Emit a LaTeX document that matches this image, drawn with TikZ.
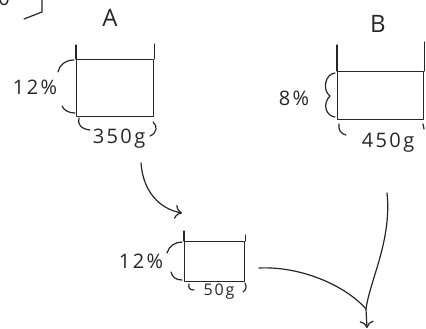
\documentclass[tikz,border=0pt]{standalone}
\usepackage{fontspec}
\setmainfont{Open Sans}[LetterSpace=12]
\usetikzlibrary{arrows.meta}
\begin{document}
\begin{tikzpicture}[x=1pt,y=-1pt, line width=1.2pt, line cap=round, line join=round,
  ink/.style={draw=black!85},
  lbl/.style={font=\fontsize{20}{20}\selectfont, inner sep=0pt, text=black!85},
  big/.style={font=\fontsize{24}{24}\selectfont, inner sep=0pt, text=black!85},
  tank/.style={draw=black!85, line width=1.2pt, inner sep=0pt, anchor=north west},
  harrow/.style={-{To[length=7pt,width=14pt]}}
]
\useasboundingbox (0,0) rectangle (426,329);
% top-left fragment
\node[lbl, anchor=south] (frag) at (4,6) {0};
\coordinate (brT) at (42,-2);
\coordinate (brC) at (42,12);
\coordinate (brE) at (24,19);
\draw[ink] (brT) -- (brC) -- (brE);

% Box A
\node[big] (labA) at (110,18) {A};
\node[tank, minimum width=77pt, minimum height=57pt] (boxA) at (76,59) {};
\draw[ink] (boxA.north west) -- ++(0,-14);
\draw[ink] (boxA.north east) -- ++(0,-15);
\node[lbl] (pA) at (35,87) {12\%};
\draw[ink] (74,60) .. controls (66,60) and (59,65) .. (58,72);
\draw[ink] (62,106) .. controls (64,111) and (70,113) .. (75,113);
\node[lbl] (mA) at (119,139) {350g};
\draw[ink] (79,118) .. controls (77,124) and (81,129) .. (90,130);
\draw[ink] (153,122) .. controls (158,126) and (157,133) .. (150,136);

% Box B
\node[big] (labB) at (378,24) {B};
\node[tank, minimum width=86pt, minimum height=48pt] (boxB) at (337,71) {};
\draw[ink] (boxB.north west) -- ++(0,-26);
\draw[ink] (boxB.north east) -- ++(0,-29);
\node[lbl] (pB) at (294,98) {8\%};
\draw[ink] (335,73) .. controls (325,74) and (322,90) .. (330,96);
\draw[ink] (330,96) .. controls (322,104) and (326,116) .. (335,117);
\node[lbl] (mB) at (388,143) {450g};
\draw[ink] (339,124) .. controls (338,130) and (341,134) .. (346,135);
\draw[ink] (423,124) -- (424,129);

% small box
\node[tank, minimum width=60pt, minimum height=40pt] (boxS) at (184,241) {};
\draw[ink] (boxS.north west) -- ++(0,-10);
\draw[ink] (boxS.north east) -- ++(0,-6);
\node[lbl] (pS) at (141,261) {12\%};
\draw[ink] (182,242) .. controls (175,242) and (169,246) .. (167,253);
\draw[ink] (171,272) .. controls (172,277) and (176,280) .. (182,280);
\node[lbl, font=\fontsize{16}{16}\selectfont] (mS) at (219,292) {50g};
\draw[ink] (189,284) .. controls (188,288) and (190,290) .. (194,290);
\draw[ink] (245,283) .. controls (247,287) and (246,290) .. (243,292);

% arrows
\coordinate (a1s) at (141,163);
\coordinate (a1e) at (182,213);
\draw[ink, harrow] (a1s) .. controls (143,192) and (160,209) .. (a1e);
\coordinate (sA) at (259,268);
\coordinate (sB) at (387,193);
\coordinate (merge) at (366,309);
\coordinate (tip) at (367,328);
\draw[ink] (sA) .. controls (300,266) and (345,285) .. (merge);
\draw[ink] (sB) .. controls (392,240) and (370,280) .. (merge);
\draw[ink, harrow] (merge) -- (tip);
\end{tikzpicture}
\end{document}
